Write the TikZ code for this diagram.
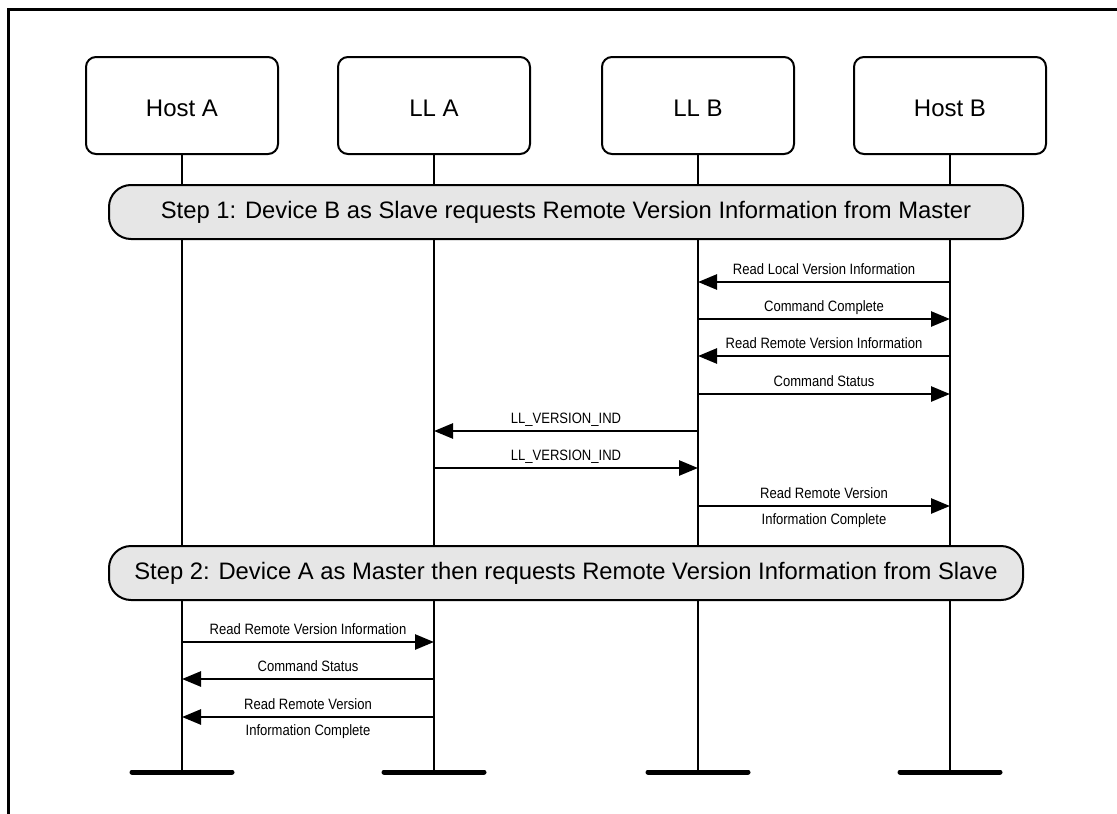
\documentclass[tikz,border=0pt]{standalone}
\usepackage{fontspec}
\setmainfont{Liberation Sans}
\newfontfamily\narrowsf[FakeStretch=0.87]{Liberation Sans}
\usetikzlibrary{arrows.meta}
\definecolor{bandgray}{HTML}{E6E6E6}
\tikzset{
  party/.style={draw,line width=2pt,rounded corners=10pt,minimum width=192pt,minimum height=97pt,text height=24pt,text depth=2pt,font=\fontsize{24}{28}\selectfont},
  stepband/.style={draw,line width=2pt,fill=bandgray,rounded corners=22pt,minimum width=914pt,minimum height=54pt,font=\fontsize{23.8}{28}\selectfont},
  life/.style={line width=2.2pt},
  foot/.style={line width=5pt,line cap=round},
  msg/.style={line width=2.6pt,-{Triangle[length=19pt,width=15pt]}},
  txtup/.style={anchor=base,yshift=8pt,inner sep=0pt,font=\narrowsf\fontsize{15}{18}\selectfont},
  txtdown/.style={anchor=base,yshift=-18pt,inner sep=0pt,font=\narrowsf\fontsize{15}{18}\selectfont}
}
% one message between two lifelines, label above (and below)
\newcommand{\msgup}[4]{\draw[msg] (#1 |- 0,#3) -- node[txtup]{#4} (#2 |- 0,#3);}
\newcommand{\msgtwo}[5]{\draw[msg] (#1 |- 0,#3) -- node[txtup]{#4} node[txtdown]{#5} (#2 |- 0,#3);}

\begin{document}
\begin{tikzpicture}[x=1pt,y=-1pt]
\useasboundingbox (0,0) rectangle (1117,814);
\draw[line width=3pt] (8,814)--(8,9)--(1117,9);
% parties
\node[party] (hosta) at (182,105.5) {Host A};
\node[party] (lla) at (434,105.5) {LL A};
\node[party] (llb) at (698,105.5) {LL B};
\node[party] (hostb) at (950,105.5) {Host B};
% lifelines
\foreach \p in {hosta,lla,llb,hostb}{
  \coordinate (\p-end) at (\p.south |- 0,772);
  \draw[life] (\p.south) -- (\p-end);
  \draw[foot] ([xshift=-50pt]\p-end) -- ([xshift=50pt]\p-end);
}
% steps
\node[stepband] (step1) at (566,212) {Step 1: Device B as Slave requests Remote Version Information from Master};
\node[stepband] (step2) at (566,573) {Step 2: Device A as Master then requests Remote Version Information from Slave};
% messages
\msgup{hostb}{llb}{282}{Read Local Version Information}
\msgup{llb}{hostb}{319}{Command Complete}
\msgup{hostb}{llb}{356}{Read Remote Version Information}
\msgup{llb}{hostb}{394}{Command Status}
\msgup{llb}{lla}{431}{LL\_VERSION\_IND}
\msgup{lla}{llb}{468}{LL\_VERSION\_IND}
\msgtwo{llb}{hostb}{506}{Read Remote Version}{Information Complete}
\msgup{hosta}{lla}{642}{Read Remote Version Information}
\msgup{lla}{hosta}{679}{Command Status}
\msgtwo{lla}{hosta}{717}{Read Remote Version}{Information Complete}
\end{tikzpicture}
\end{document}
